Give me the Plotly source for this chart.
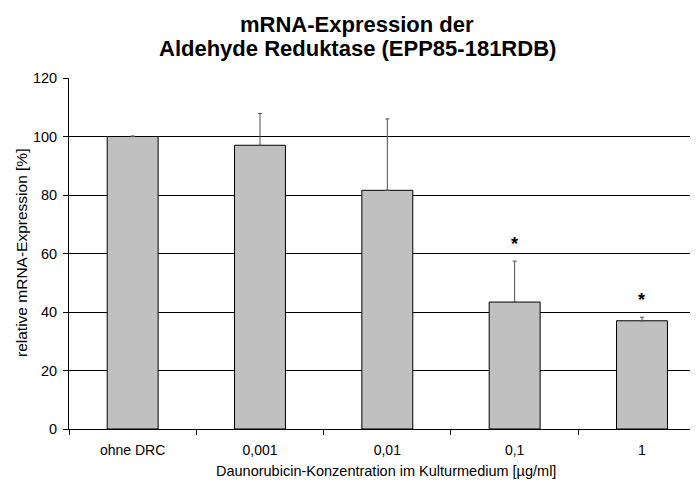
import plotly.graph_objects as go

categories = ["ohne DRC", "0,001", "0,01", "0,1", "1"]
values = [100.0, 97.0, 81.6, 43.4, 37.0]
errors = [0.2, 10.9, 24.4, 14.0, 1.2]
significant = [False, False, False, True, True]
star_y = [None, None, None, 64.7, 45.6]

title_lines = ["mRNA-Expression der", "Aldehyde Reduktase (EPP85-181RDB)"]
x_title = "Daunorubicin-Konzentration im Kulturmedium [µg/ml]"
y_title = "relative mRNA-Expression [%]"
y_ticks = [0, 20, 40, 60, 80, 100, 120]

FONT = "Liberation Sans, Arial, sans-serif"
W, H = 698, 482
OFF = 8  # page body margin offset: figure origin sits at (8, 8) in the window
# target plot area in window pixels: x 69..698, y 78..429
L = 69 - OFF
T = 78 - OFF
B = H - (429 - OFF)
R = OFF
pw, ph = W - L - R, H - T - B


def px_to_paper(px, py):
    """window pixel -> plot-area paper coords"""
    fx = px - OFF
    fy = py - OFF
    return (fx - L) / pw, 1 - (fy - T) / ph


fig = go.Figure()
fig.add_trace(go.Bar(
    x=list(range(len(categories))), y=values,
    width=0.4,
    marker=dict(color="#C0C0C0", line=dict(color="#000000", width=1)),
    error_y=dict(type="data", array=errors, symmetric=False,
                 arrayminus=[0] * len(values),
                 color="#505050", thickness=1, width=2),
    showlegend=False, hoverinfo="skip",
))

for i, (s, yv) in enumerate(zip(significant, star_y)):
    if s:
        fig.add_annotation(x=i, y=yv, xref="x", yref="y", text="<b>*</b>",
                           showarrow=False, yanchor="middle", yshift=-4,
                           font=dict(size=18, color="#000000", family=FONT))

for txt, ypx in zip(title_lines, [24, 49]):
    ax, ay = px_to_paper(357, ypx)
    fig.add_annotation(x=ax, y=ay, xref="paper", yref="paper",
                       text="<b>" + txt + "</b>", showarrow=False,
                       xanchor="center", yanchor="middle",
                       font=dict(size=22, color="#000000", family=FONT))

ax, ay = px_to_paper(386, 471)
fig.add_annotation(x=ax, y=ay, xref="paper", yref="paper",
                   text=x_title, showarrow=False, xanchor="center", yanchor="middle",
                   font=dict(size=14.5, color="#000000", family=FONT))
ax, ay = px_to_paper(21, 253)
fig.add_annotation(x=ax, y=ay, xref="paper", yref="paper",
                   text=y_title, showarrow=False, textangle=-90,
                   xanchor="center", yanchor="middle",
                   font=dict(size=15.5, color="#000000", family=FONT))

fig.update_layout(
    width=W, height=H,
    margin=dict(l=L, r=R, t=T, b=B, autoexpand=False),
    paper_bgcolor="white", plot_bgcolor="white",
    font=dict(family=FONT, size=14, color="#000000"),
    bargap=0.6,
)

fig.update_xaxes(
    range=[-0.5, 4.44],
    tickmode="array", tickvals=list(range(len(categories))), ticktext=categories,
    showline=True, linecolor="#000000", linewidth=1,
    ticks="", showgrid=False, zeroline=False,
    tickfont=dict(size=14), automargin=False, ticklabelstandoff=8,
    minor=dict(tickmode="array", tickvals=[i + 0.5 for i in range(-1, len(categories))],
               ticks="outside", ticklen=5, tickcolor="#000000", showgrid=False),
)
fig.update_yaxes(
    range=[0, 120], tickvals=y_ticks,
    showline=True, linecolor="#000000", linewidth=1,
    ticks="outside", ticklen=5, tickcolor="#000000",
    showgrid=True, gridcolor="#000000", gridwidth=1,
    zeroline=False, automargin=False,
    tickfont=dict(size=14.5), ticklabelstandoff=3,
)

fig.write_html("out.html")
